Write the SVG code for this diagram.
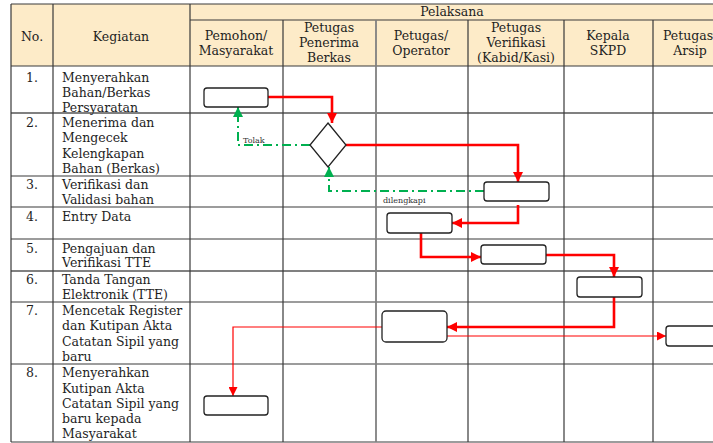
<svg xmlns="http://www.w3.org/2000/svg" width="713" height="443" viewBox="0 0 713 443">
<style>
.t{font-family:"DejaVu Serif","Liberation Serif",serif;font-size:12.5px;fill:#1e1e1e}
.c{text-anchor:middle}
.s{font-family:"DejaVu Serif","Liberation Serif",serif;font-size:8px;fill:#333}
.g{stroke:#3a3a3a;stroke-width:1.2;fill:none}
.g2{stroke:#808080;stroke-width:1.8;fill:none}
.box{fill:#fff;stroke:#222;stroke-width:1.3}
.r{stroke:#ff0000;stroke-width:2.6;fill:none}
.rt{stroke:#ff0000;stroke-width:1.2;fill:none}
.gr{stroke:#00b050;stroke-width:2;fill:none;stroke-dasharray:9 4 2 4}
</style>
<defs>
<marker id="ar" markerUnits="userSpaceOnUse" markerWidth="10" markerHeight="10" refX="10" refY="5" orient="auto"><path d="M0,0 L10,5 L0,10 z" fill="#ff0000"/></marker>
<marker id="art" markerUnits="userSpaceOnUse" markerWidth="9" markerHeight="9" refX="9" refY="4.5" orient="auto"><path d="M0,0 L9,4.5 L0,9 z" fill="#ff0000"/></marker>
<marker id="ag" markerUnits="userSpaceOnUse" markerWidth="10" markerHeight="10" refX="10" refY="5" orient="auto"><path d="M0,0 L10,5 L0,10 z" fill="#00b050"/></marker>
</defs>
<rect x="0" y="0" width="713" height="443" fill="#fff"/>
<g id="table">
<rect x="11" y="4" width="720" height="62" fill="#fdebc8"/>
<path class="g" d="M11,4 H731 M190,20 H731 M11,66 H731 M11,176 H731 M11,207 H731 M11,239 H731 M11,302 H731 M11,364 H731 M11,442 H731"/>
<path class="g2" d="M11,113 H731 M11,271 H731"/>
<path class="g" d="M11,4 V442 M53,4 V442 M190,4 V442 M283,20 V442 M468,20 V442 M564,20 V442 M653,20 V442"/>
<path class="g2" d="M376,20 V442"/>
<text class="t c" x="32" y="41">No.</text>
<text class="t c" x="121" y="41">Kegiatan</text>
<text class="t c" x="452" y="16">Pelaksana</text>
<text class="t c" x="236" y="40">Pemohon/</text>
<text class="t c" x="236" y="55">Masyarakat</text>
<text class="t c" x="329" y="32">Petugas</text>
<text class="t c" x="329" y="47">Penerima</text>
<text class="t c" x="329" y="62">Berkas</text>
<text class="t c" x="421" y="40">Petugas/</text>
<text class="t c" x="421" y="55">Operator</text>
<text class="t c" x="516" y="32">Petugas</text>
<text class="t c" x="516" y="47">Verifikasi</text>
<text class="t c" x="516" y="62">(Kabid/Kasi)</text>
<text class="t c" x="608" y="40">Kepala</text>
<text class="t c" x="608" y="55">SKPD</text>
<text class="t c" x="688" y="40">Petugas</text>
<text class="t c" x="690" y="55">Arsip</text>
<text class="t c" x="32" y="82">1.</text>
<text class="t" x="62" y="82">Menyerahkan</text>
<text class="t" x="62" y="97">Bahan/Berkas</text>
<text class="t" x="62" y="112">Persyaratan</text>
<text class="t c" x="32" y="127">2.</text>
<text class="t" x="62" y="127">Menerima dan</text>
<text class="t" x="62" y="142">Mengecek</text>
<text class="t" x="62" y="157.5">Kelengkapan</text>
<text class="t" x="62" y="172.5">Bahan (Berkas)</text>
<text class="t c" x="32" y="189">3.</text>
<text class="t" x="62" y="189">Verifikasi dan</text>
<text class="t" x="62" y="204">Validasi bahan</text>
<text class="t c" x="32" y="221">4.</text>
<text class="t" x="62" y="221">Entry Data</text>
<text class="t c" x="32" y="252.5">5.</text>
<text class="t" x="62" y="252.5">Pengajuan dan</text>
<text class="t" x="62" y="267">Verifikasi TTE</text>
<text class="t c" x="32" y="284">6.</text>
<text class="t" x="62" y="284">Tanda Tangan</text>
<text class="t" x="62" y="299">Elektronik (TTE)</text>
<text class="t c" x="32" y="315">7.</text>
<text class="t" x="62" y="315">Mencetak Register</text>
<text class="t" x="62" y="330">dan Kutipan Akta</text>
<text class="t" x="62" y="345.5">Catatan Sipil yang</text>
<text class="t" x="62" y="360.5">baru</text>
<text class="t c" x="32" y="377">8.</text>
<text class="t" x="62" y="377">Menyerahkan</text>
<text class="t" x="62" y="392.5">Kutipan Akta</text>
<text class="t" x="62" y="407.5">Catatan Sipil yang</text>
<text class="t" x="62" y="423">baru kepada</text>
<text class="t" x="62" y="438">Masyarakat</text>
</g>
<g id="connectors">
<path class="r" d="M268,97 H332 V123" marker-end="url(#ar)"/>
<path class="r" d="M346,145 H518 V182" marker-end="url(#ar)"/>
<path class="gr" d="M484,191 H329 V167" marker-end="url(#ag)"/>
<path class="gr" d="M310,145 H238 V107" marker-end="url(#ag)"/>
<path class="r" d="M518,205 V223 H452" marker-end="url(#ar)"/>
<path class="r" d="M421,233 V257 H481" marker-end="url(#ar)"/>
<path class="r" d="M546,255 H614 V277" marker-end="url(#ar)"/>
<path class="r" d="M614,297 V327 H447" marker-end="url(#ar)"/>
<path class="rt" d="M447,336 H666" marker-end="url(#art)"/>
<path class="rt" d="M382,327 H233 V396" marker-end="url(#art)"/>
<text class="s" x="243" y="143">Tolak</text>
<text class="s" x="383" y="203">dilengkapi</text>
</g>
<g id="n1"><rect class="box" x="204" y="88" width="64" height="19" rx="3"/></g>
<g id="n2"><polygon class="box" points="328,123 346,145 328,167 310,145"/></g>
<g id="n3"><rect class="box" x="484" y="182" width="65" height="19" rx="3"/></g>
<g id="n4"><rect class="box" x="387" y="213" width="65" height="20" rx="3"/></g>
<g id="n5"><rect class="box" x="481" y="245" width="65" height="19" rx="3"/></g>
<g id="n6"><rect class="box" x="577" y="277" width="65" height="20" rx="3"/></g>
<g id="n7"><rect class="box" x="382" y="311" width="65" height="31" rx="4"/></g>
<g id="n8"><rect class="box" x="666" y="326" width="60" height="20" rx="3"/></g>
<g id="n9"><rect class="box" x="204" y="396" width="64" height="19" rx="3"/></g>
</svg>
